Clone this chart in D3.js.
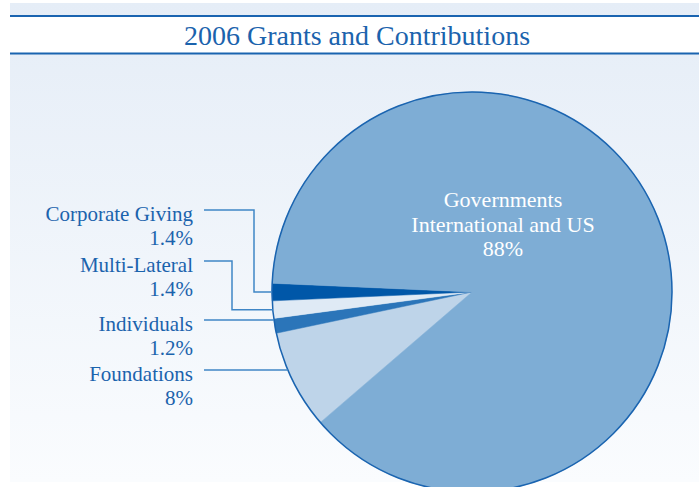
<!DOCTYPE html>
<html>
<head>
<meta charset="utf-8">
<script src="https://cdn.jsdelivr.net/npm/d3@7"></script>
<style>
  body { margin: 0; background: #fff; }
  svg { display: block; }
  text { font-family: 'Liberation Serif', serif; }
</style>
</head>
<body>
<div id="chart"></div>
<script>
// data, in drawing order (clockwise from the bottom-left edge of the pie)
const categories = ['Foundations', 'Individuals', 'Multi-Lateral', 'Corporate Giving', 'Governments']
const shares = [8, 1.2, 1.4, 1.4, 88]
const pctLabels = ['8%', '1.2%', '1.4%', '1.4%', '88%']
const sliceColors = ['#bed4e9', '#2b75b9', '#dfeaf5', '#0057a8', '#7eadd5']
const govLines = ['Governments', 'International and US', '88%']
const title = '2006 Grants and Contributions'

const width = 699
const height = 487
const cx = 472
const cy = 292
const radius = 200
const textBlue = '#1b63ad'
const ruleBlue = '#1a64b0'

const svg = d3
  .select('#chart')
  .append('svg')
  .attr('width', width)
  .attr('height', height)

// background gradient
const grad = svg
  .append('defs')
  .append('linearGradient')
  .attr('id', 'bg')
  .attr('x1', 0)
  .attr('y1', 0)
  .attr('x2', 0)
  .attr('y2', 1)
grad.append('stop').attr('offset', '0%').attr('stop-color', '#e5edf7')
grad.append('stop').attr('offset', '100%').attr('stop-color', '#fafcfe')

svg
  .append('rect')
  .attr('x', 10)
  .attr('y', 3)
  .attr('width', width - 10)
  .attr('height', 479)
  .attr('fill', 'url(#bg)')

// title band
svg
  .append('rect')
  .attr('x', 10)
  .attr('y', 16)
  .attr('width', width - 10)
  .attr('height', 38)
  .attr('fill', '#fff')

svg
  .selectAll('.rule')
  .data([16, 53.5])
  .enter()
  .append('line')
  .attr('class', 'rule')
  .attr('x1', 10)
  .attr('x2', width)
  .attr('y1', d => d)
  .attr('y2', d => d)
  .attr('stroke', ruleBlue)
  .attr('stroke-width', 2)

svg
  .append('text')
  .attr('x', 357)
  .attr('y', 45)
  .attr('text-anchor', 'middle')
  .attr('font-size', 28)
  .attr('fill', textBlue)
  .text(title)

// pie: the small slices sit just under the left horizontal
const tilt = 2.5 * Math.PI / 180
const total = d3.sum(shares)
const smallTotal = total - shares[shares.length - 1]
const start = 1.5 * Math.PI + tilt - (smallTotal / total) * 2 * Math.PI

const pie = d3
  .pie()
  .sort(null)
  .value(d => d)
  .startAngle(start)
  .endAngle(start + 2 * Math.PI)

const arcs = pie(shares)
const arc = d3.arc().innerRadius(0).outerRadius(radius)

const g = svg.append('g').attr('transform', 'translate(' + cx + ',' + cy + ')')

g.selectAll('path')
  .data(arcs)
  .enter()
  .append('path')
  .attr('d', arc)
  .attr('fill', (d, i) => sliceColors[i])
  .attr('stroke', (d, i) => sliceColors[i])
  .attr('stroke-width', 0.5)

g.append('circle')
  .attr('r', radius)
  .attr('fill', 'none')
  .attr('stroke', ruleBlue)
  .attr('stroke-width', 1.5)

// governments label inside the big slice
g.selectAll('.gov')
  .data(govLines)
  .enter()
  .append('text')
  .attr('class', 'gov')
  .attr('x', 31)
  .attr('y', (d, i) => -85 + i * 24.5)
  .attr('text-anchor', 'middle')
  .attr('font-size', 22)
  .attr('fill', '#fff')
  .text(d => d)

// left labels with leader lines
const labelRows = [
  { idx: 3, y: 210, elbow: 254 },
  { idx: 2, y: 261, elbow: 232 },
  { idx: 1, y: 320, elbow: null },
  { idx: 0, y: 370, elbow: null }
]

function rimX(y) {
  return cx - Math.sqrt(radius * radius - (y - cy) * (y - cy))
}

labelRows.forEach(row => {
  const a = arcs[row.idx]
  const mid = (a.startAngle + a.endAngle) / 2
  let pts
  if (row.elbow !== null) {
    const ty = cy - Math.cos(mid) * radius
    pts = [[204, row.y], [row.elbow, row.y], [row.elbow, ty], [rimX(ty), ty]]
  } else {
    pts = [[204, row.y], [rimX(row.y), row.y]]
  }
  svg
    .append('path')
    .attr('d', d3.line()(pts))
    .attr('fill', 'none')
    .attr('stroke', '#3f86c6')
    .attr('stroke-width', 1.5)

  svg
    .append('text')
    .attr('x', 193)
    .attr('y', row.y + 11)
    .attr('text-anchor', 'end')
    .attr('font-size', 21)
    .attr('fill', textBlue)
    .text(categories[row.idx])

  svg
    .append('text')
    .attr('x', 193)
    .attr('y', row.y + 34.5)
    .attr('text-anchor', 'end')
    .attr('font-size', 21)
    .attr('fill', textBlue)
    .text(pctLabels[row.idx])
})
</script>
</body>
</html>
